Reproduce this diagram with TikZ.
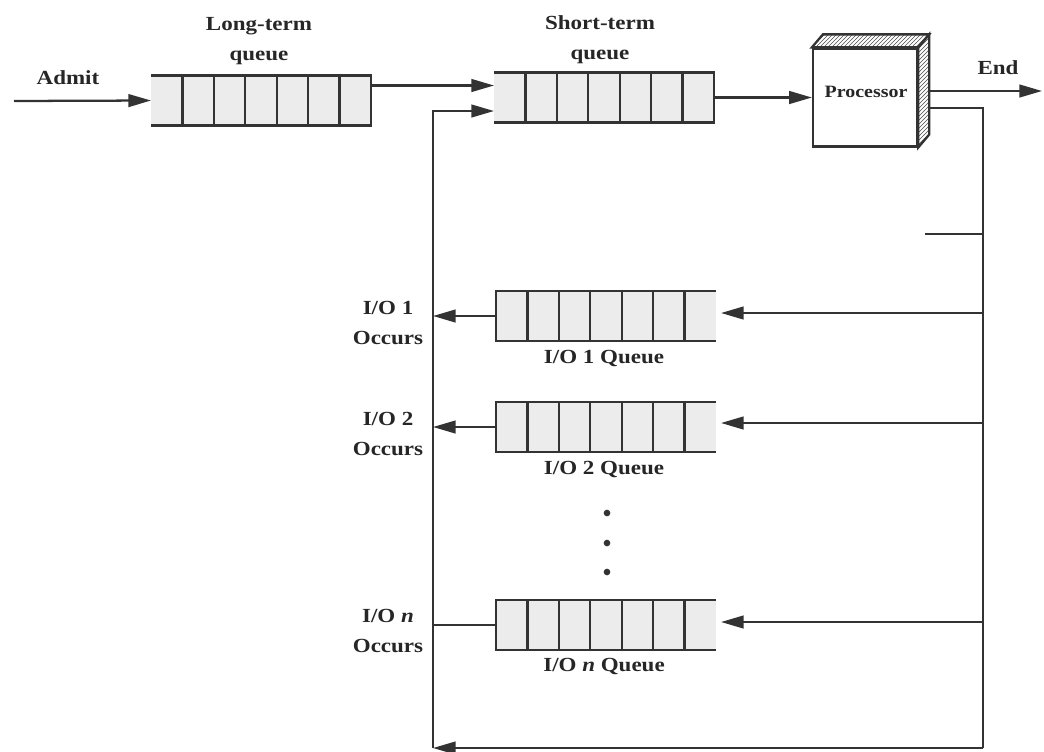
\documentclass[tikz,border=0pt]{standalone}
\usepackage{fontspec}
\setmainfont{Liberation Serif}[FakeStretch=1.15]
\usetikzlibrary{arrows.meta,calc,patterns}
\begin{document}
\begin{tikzpicture}[x=0.75pt,y=-0.75pt,
  ln/.style={line width=1.7pt,draw=black!80},
  arr/.style={ln,-{Triangle[length=17pt,width=9.5pt]}},
  qbox/.style={draw=none,fill=gray!15,minimum width=165pt,minimum height=37.5pt,inner sep=0pt,outer sep=0pt},
  lbl/.style={font=\bfseries\fontsize{15}{22.5}\selectfont,align=center,inner sep=0pt,text=black!85},
  dot/.style={circle,fill=black!80,inner sep=0pt,minimum size=5pt},
]
\useasboundingbox (0,0) rectangle (1044,751);

% queues
\node[qbox] (LT) at (261,100.5) {};
\node[qbox] (ST) at (604,97.5) {};
\node[qbox] (IO1) at (606,316) {};
\node[qbox] (IO2) at (606,427) {};
\node[qbox] (IOn) at (606,625) {};

\foreach \q in {LT,ST} {
  \draw[ln] (\q.north west) -- (\q.north east) -- (\q.south east) -- (\q.south west);
  \foreach \k in {1,...,6}
    \draw[ln] ($(\q.north west)!\k/7!(\q.north east)$) -- ($(\q.south west)!\k/7!(\q.south east)$);
}
\foreach \q in {IO1,IO2,IOn} {
  \draw[ln] (\q.north east) -- (\q.north west) -- (\q.south west) -- (\q.south east);
  \foreach \k in {1,...,6}
    \draw[ln] ($(\q.north west)!\k/7!(\q.north east)$) -- ($(\q.south west)!\k/7!(\q.south east)$);
}

% processor
\node[draw=black!80,line width=1.7pt,fill=white,minimum width=78pt,minimum height=73.5pt,inner sep=0pt] (P) at (865,97.5) {};
\draw[ln,pattern=north east lines,pattern color=black!70]
  (P.north west) -- ++(11,-13) -- ($(P.north east)+(11,-13)$) -- (P.north east) -- cycle;
\draw[ln,pattern=north east lines,pattern color=black!70]
  (P.north east) -- ++(11,-13) -- ($(P.south east)+(11,-13)$) -- (P.south east) -- cycle;
\node[lbl,font=\bfseries\fontsize{13}{16}\selectfont] (procL) at (866,92) {Processor};

% coordinates
\coordinate (admitS) at (14,101);
\coordinate (endE) at (1042,91);
\coordinate (fbR) at (983,108);
\coordinate (fbB) at (983,748);
\coordinate (fbL) at (433,748);
\coordinate (stub) at (925,234);

% connectors
\draw[arr] (admitS) -- (LT.west);
\draw[arr] ($(LT.east)+(0,-15)$) -- ($(ST.west)+(0,-12)$);
\draw[arr] (ST.east) -- (P.west);
\draw[arr] ($(P.east)+(11,-6.5)$) -- (endE);
\draw[ln] ($(P.east)+(11,10.5)$) -- (fbR) -- (fbB);
\draw[arr] (fbB) -- (fbL);
\draw[arr] (fbL) |- ($(ST.west)+(0,13.5)$);
\draw[ln] (stub) -- (stub -| fbR);

\path ($(IO1.east)+(5,-3)$) coordinate (i1);
\path ($(IO2.east)+(5,-4)$) coordinate (i2);
\path ($(IOn.east)+(5,-3)$) coordinate (in);
\draw[arr] (i1 -| fbR) -- (i1);
\draw[arr] (i2 -| fbR) -- (i2);
\draw[arr] (in -| fbR) -- (in);

\draw[arr] (IO1.west) -- (IO1.west -| fbL);
\draw[arr] (IO2.west) -- (IO2.west -| fbL);
\draw[ln] (IOn.west) -- (IOn.west -| fbL);

% dots
\node[dot] (d1) at (607,513) {};
\node[dot] (d2) at (607,543) {};
\node[dot] (d3) at (607,572) {};

% labels
\node[lbl] (admitL) at (68,77.5) {Admit};
\node[lbl] (ltL) at (259,41) {Long-term\\queue};
\node[lbl] (stL) at (600,40) {Short-term\\queue};
\node[lbl] (endL) at (998,68) {End};
\node[lbl] (o1) at (388,322.5) {I/O 1\\Occurs};
\node[lbl] (o2) at (388,433.5) {I/O 2\\Occurs};
\node[lbl] (on) at (388,631) {I/O \textit{n}\\Occurs};
\node[lbl] (q1) at (604,358) {I/O 1 Queue};
\node[lbl] (q2) at (604,469) {I/O 2 Queue};
\node[lbl] (qn) at (604,666) {I/O \textit{n} Queue};
\end{tikzpicture}
\end{document}
